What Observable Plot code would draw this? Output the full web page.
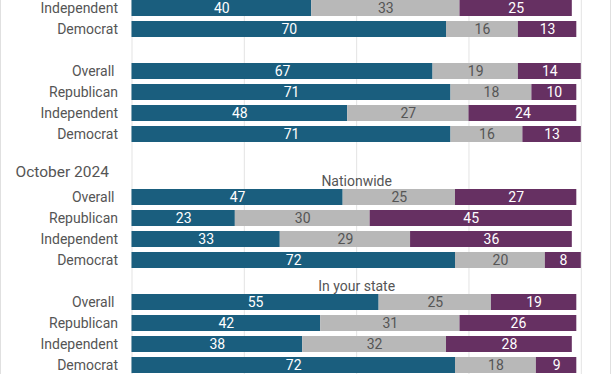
<!DOCTYPE html>
<html>
<head>
<meta charset="utf-8">
<script src="https://cdn.jsdelivr.net/npm/d3@7"></script>
<script src="https://cdn.jsdelivr.net/npm/@observablehq/plot@0.6"></script>
<style>
  html, body { margin: 0; padding: 0; background: #fff; }
  #wrap { position: relative; width: 612px; height: 374px; overflow: hidden; }
  #border { position: absolute; left: 0; top: 0; width: 609px; height: 374px;
            border-left: 1px solid #e0e0e0; border-right: 1px solid #e0e0e0; pointer-events: none; }
  svg { font-family: Roboto, sans-serif; }
</style>
</head>
<body>
<div id="wrap"><div id="border"></div></div>
<script>
// Row slots (top to bottom); empty slots are spacing rows
const rowKeys = ["A-Ind", "A-Dem", "gap1",
  "B-Ove", "B-Rep", "B-Ind", "B-Dem", "gap2", "gap3",
  "C-Ove", "C-Rep", "C-Ind", "C-Dem", "gap4",
  "D-Ove", "D-Rep", "D-Ind", "D-Dem"];
const rowLabels = ["Independent", "Democrat", "",
  "Overall\u00a0", "Republican", "Independent", "Democrat", "", "",
  "Overall\u00a0", "Republican", "Independent", "Democrat", "",
  "Overall\u00a0", "Republican", "Independent", "Democrat"];

const responses = ["Yes", "Unsure", "No"];

// values per row: [Yes, Unsure, No]
const groupA = { "A-Ind": [40, 33, 25], "A-Dem": [70, 16, 13] };
const groupB = { "B-Ove": [67, 19, 14], "B-Rep": [71, 18, 10], "B-Ind": [48, 27, 24], "B-Dem": [71, 16, 13] };
const groupNationwide = { "C-Ove": [47, 25, 27], "C-Rep": [23, 30, 45], "C-Ind": [33, 29, 36], "C-Dem": [72, 20, 8] };
const groupState = { "D-Ove": [55, 25, 19], "D-Rep": [42, 31, 26], "D-Ind": [38, 32, 28], "D-Dem": [72, 18, 9] };

const headers = [
  { key: "gap3", text: "October 2024", kind: "period" },
  { key: "gap3", text: "Nationwide", kind: "sub" },
  { key: "gap4", text: "In your state", kind: "sub" }
];

const xTicks = [0, 25, 50, 75, 100];

// styles
const fillColors = { "Yes": "#1a5e7e", "Unsure": "#b8b8b8", "No": "#663062" };
const textColors = { "Yes": "#ffffff", "Unsure": "#555555", "No": "#ffffff" };

const data = [];
for (const grp of [groupA, groupB, groupNationwide, groupState]) {
  for (const [row, vals] of Object.entries(grp)) {
    vals.forEach((v, i) => data.push({ row, resp: responses[i], value: v }));
  }
}
const labelOf = Object.fromEntries(rowKeys.map((k, i) => [k, rowLabels[i]]));

const chart = Plot.plot({
  width: 612,
  height: 374,
  marginLeft: 131.5,
  marginRight: 31.2,
  marginTop: 0,
  marginBottom: 0,
  style: { fontFamily: "Roboto, sans-serif", fontSize: "14px", color: "#555", background: "transparent" },
  x: { domain: [0, 100], axis: null },
  y: { domain: rowKeys, range: [-6.2, 378.0], paddingInner: 0.25, paddingOuter: 0.125, axis: null },
  color: { type: "identity" },
  marks: [
    Plot.ruleX(xTicks, { stroke: "#e3e3e3", strokeWidth: 1 }),
    Plot.barX(data, Plot.stackX({ x: "value", y: "row", z: "resp", order: null, fill: d => fillColors[d.resp] })),
    Plot.text(data, Plot.stackX({ x: "value", y: "row", z: "resp", order: null, text: d => String(d.value),
      fill: d => textColors[d.resp], fontSize: 14, dy: 0.5 })),
    Plot.axisY({ tickSize: 0, tickPadding: 14, tickFormat: d => labelOf[d], fontSize: 14, fill: "#555", label: null }),
    Plot.text(headers.filter(h => h.kind === "sub"), { x: () => 50, y: "key", text: "text", dy: 5.5, fontSize: 14, fill: "#555" }),
    Plot.text(headers.filter(h => h.kind === "period"), { y: "key", text: "text", frameAnchor: "left", textAnchor: "start", dx: -116.5, dy: -4.5, fontSize: 15.5, fill: "#555" })
  ]
});
document.getElementById("wrap").prepend(chart);
</script>
</body>
</html>
